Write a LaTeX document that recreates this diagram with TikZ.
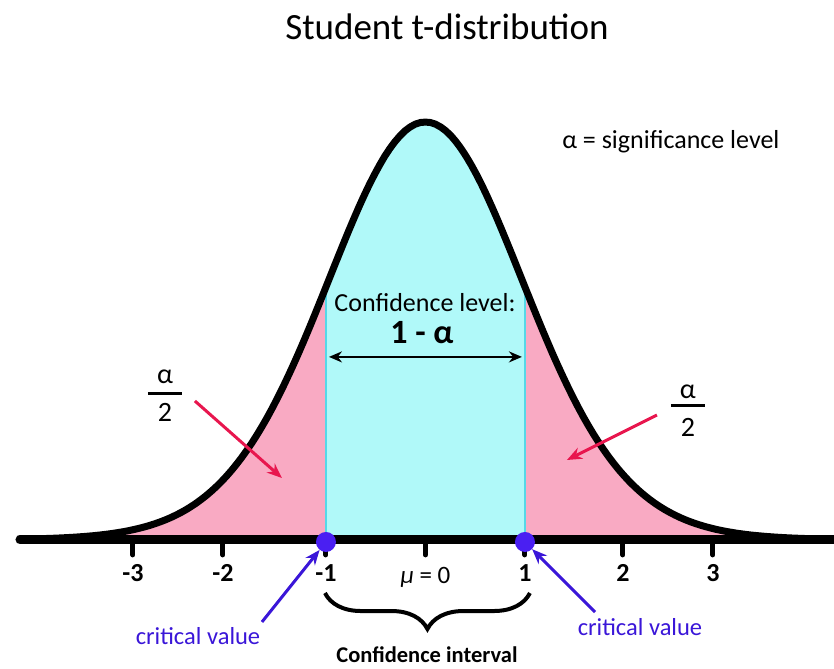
\documentclass[tikz,border=0pt]{standalone}
\usepackage{fontspec}
\setmainfont{Carlito}
\usetikzlibrary{arrows.meta,decorations.pathreplacing}

\definecolor{tailpink}{HTML}{F9AAC3}
\definecolor{midcyan}{HTML}{B0F9F9}
\definecolor{edgecyan}{HTML}{55D8E8}
\definecolor{arrowred}{HTML}{E8164E}
\definecolor{critblue}{HTML}{3A16D8}
\definecolor{dotblue}{HTML}{4A1FF2}

\tikzset{
    tick/.style={line width=5pt, line cap=round},
    ticklab/.style={font=\bfseries\fontsize{26}{30}\selectfont},
    redarrow/.style={arrowred, line width=3pt, -{Stealth[length=15pt,width=12pt]}},
    bluearrow/.style={critblue, line width=3pt, -{Stealth[length=15pt,width=12pt]}},
    critdot/.style={circle, fill=dotblue, inner sep=0pt, minimum size=20pt},
    halflab/.style={font=\fontsize{28}{32}\selectfont, inner sep=0pt},
}

\begin{document}
\begin{tikzpicture}[x=99.5pt, y=99.5pt,
    declare function={tpdf(\t)=4.2*(1+(\t/1.01)^2/20)^(-10.5);}]
    \useasboundingbox (-4.276,-1.2965) rectangle (4.106,5.427);
    % areas under the curve
    \fill[tailpink] (-4.1,0) -- plot[domain=-4.1:4.1, samples=161] (\x,{tpdf(\x)}) -- (4.1,0) -- cycle;
    \fill[midcyan] (-1,0) -- plot[domain=-1:1, samples=61] (\x,{tpdf(\x)}) -- (1,0) -- cycle;
    \draw[edgecyan, line width=2.5pt] (-1,0) -- (-1,{tpdf(-1)});
    \draw[edgecyan, line width=2.5pt] (1,0) -- (1,{tpdf(1)});
    \draw[line width=7pt] plot[domain=-4.1:4.1, samples=161] (\x,{tpdf(\x)});
    % axis and ticks
    \draw[line width=9pt, line cap=round] (-4.075,0) -- (4.3,0);
    \foreach \pos/\lab [count=\i] in {-2.94/-3, -2.035/-2, -1/-1, 1/1, 1.985/2, 2.889/3} {
        \draw[tick] (\pos,0) -- (\pos,-0.15);
        \node[ticklab] (tl\i) at (\pos,-0.332) {\lab};
    }
    \draw[tick] (0,0) -- (0,-0.15);
    \node[font=\fontsize{25}{29}\selectfont] (mu) at (0,-0.372) {{\itshape μ} = 0};
    \node[critdot] (cvL) at (-1,-0.02) {};
    \node[critdot] (cvR) at (1,-0.02) {};

    % texts
    \node[font=\fontsize{37}{42}\selectfont] (title) at (0.216,5.156) {Student t-distribution};
    \node[font=\fontsize{26}{30}\selectfont] (sig) at (2.467,4.0) {α = significance level};
    \node[font=\fontsize{26}{30}\selectfont] (conf) at (-0.005,2.382) {Confidence level:};
    \node[font=\bfseries\fontsize{34}{38}\selectfont] (onema) at (-0.035,2.08) {1 - α};
    \coordinate (cl) at (-1,1.84);
    \coordinate (cr) at (1,1.84);
    \draw[line width=2.5pt, {Stealth[length=13pt,width=11pt]}-{Stealth[length=13pt,width=11pt]}, shorten <=3pt, shorten >=3pt] (cl) -- (cr);

    % alpha/2 on both sides
    \node[halflab] (aL) at (-2.618,1.638) {α};
    \node[halflab] (twoL) at (-2.618,1.286) {2};
    \draw[line width=3pt] (-2.789,1.477) -- (-2.447,1.477);
    \node[halflab] (aR) at (2.638,1.487) {α};
    \node[halflab] (twoR) at (2.638,1.136) {2};
    \draw[line width=3pt] (2.467,1.347) -- (2.809,1.347);
    \coordinate (tailL) at (-1.442,0.623);
    \coordinate (tailR) at (1.422,0.804);
    \draw[redarrow] (-2.317,1.397) -- (tailL);
    \draw[redarrow] (2.327,1.256) -- (tailR);

    % critical values
    \node[critblue, font=\fontsize{24.5}{28}\selectfont] (critL) at (-2.286,-0.965) {critical value};
    \node[critblue, font=\fontsize{24.5}{28}\selectfont] (critR) at (2.156,-0.874) {critical value};
    \draw[bluearrow] (-1.643,-0.824) -- (cvL);
    \draw[bluearrow] (1.704,-0.724) -- (cvR);

    % confidence interval
    \coordinate (bl) at (-1.01,-0.533);
    \coordinate (br) at (1.05,-0.533);
    \draw[line width=4pt, decorate, decoration={brace, mirror, amplitude=36pt}] (bl) -- (br);
    \node[font=\bfseries\fontsize{22.5}{26}\selectfont] (cint) at (0.015,-1.156) {Confidence interval};
\end{tikzpicture}
\end{document}
